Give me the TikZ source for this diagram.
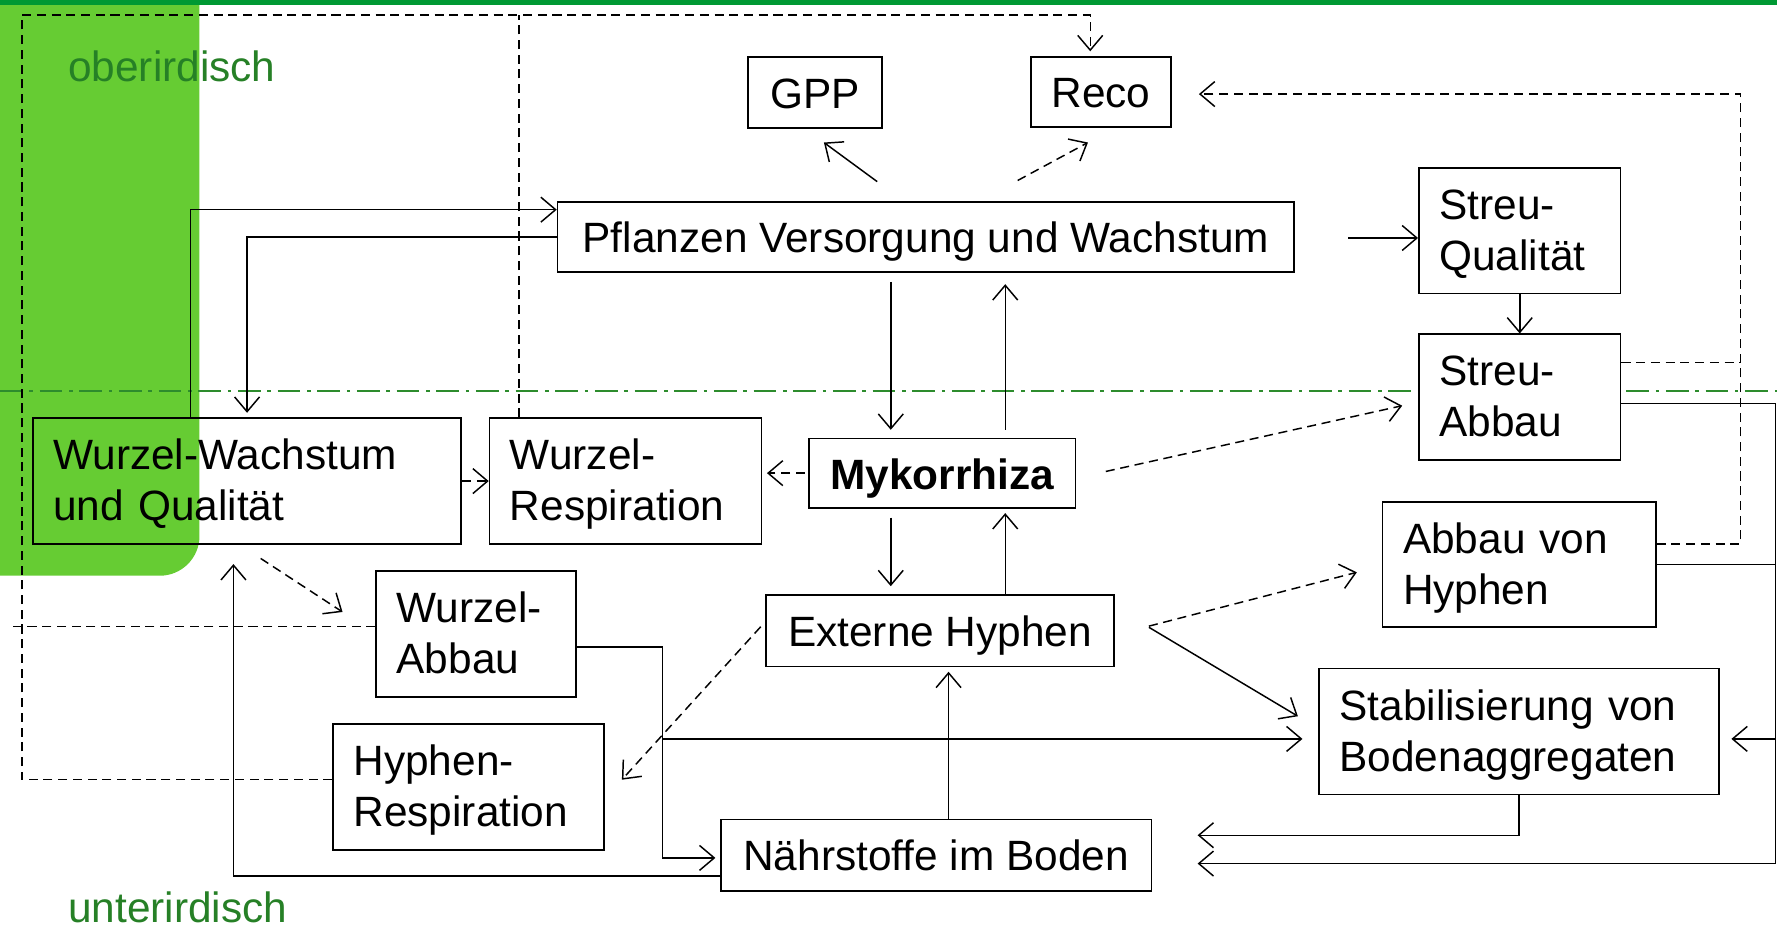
\documentclass[tikz,border=0pt]{standalone}
\usepackage{fontspec}
\setmainfont{Liberation Sans}
\usetikzlibrary{arrows.meta, calc}

\definecolor{balken}{RGB}{0,153,51}
\definecolor{blattgruen}{RGB}{102,204,51}
\definecolor{schrift}{RGB}{38,128,38}
\definecolor{grenze}{RGB}{45,140,45}

\tikzset{
  kasten/.style={draw, line width=1.5pt, fill=white, inner xsep=18pt, inner ysep=0pt,
    font=\fontsize{37.4}{45}\selectfont},
  einzeilig/.style={kasten, align=center, text height=28pt, text depth=0pt},
  zweizeilig/.style={kasten, align=left, text height=27pt, text depth=47pt, minimum height=111pt},
  fluss/.style={line width=1.3pt, -{Straight Barb[length=13pt, width=22pt]}},
  gestrichelt/.style={line width=1.3pt, dash pattern=on 8pt off 5pt},
}

\begin{document}
\begin{tikzpicture}[x=1pt, y=-1pt]
    \useasboundingbox (0,0) rectangle (1568,821);

    % Hintergrund
    \begin{scope}
        \clip (0,0) rectangle (1568,821);
        \fill[blattgruen, rounded corners=35pt] (-60,-60) rectangle (176,508);
    \end{scope}
    \fill[balken] (0,0) rectangle (1568,4);
    \draw[grenze, line width=1.3pt, dash pattern=on 20pt off 6pt on 3pt off 6pt] (0,345) -- (1568,345);

    \node[anchor=base west, inner sep=0pt, text=schrift, font=\fontsize{37.4}{45}\selectfont] (ober) at (60,72) {oberirdisch};
    \node[anchor=base west, inner sep=0pt, text=schrift, font=\fontsize{37.4}{45}\selectfont] (unter) at (60,814) {unterirdisch};

    % Kaesten
    \node[einzeilig, minimum width=118pt, minimum height=63pt] (gpp) at (719,81.5) {GPP};
    \node[einzeilig, minimum width=123pt, minimum height=62pt] (reco) at (971.5,81) {Reco};
    \node[einzeilig, minimum width=650pt, minimum height=62pt] (pflanzen) at (817,209) {Pflanzen Versorgung und Wachstum};
    \node[zweizeilig, text width=142pt] (streuq) at (1341,203.5) {Streu-\\Qualität};
    \node[zweizeilig, text width=142pt] (streua) at (1341,350.5) {Streu-\\Abbau};
    \node[zweizeilig, fill=none, text width=342pt] (wurzelw) at (218,424.5) {Wurzel-Wachstum\\und Qualität};
    \node[zweizeilig, text width=204pt] (wurzelr) at (552,424.5) {Wurzel-\\Respiration};
    \node[einzeilig, minimum width=235pt, minimum height=61pt] (myk) at (831.5,417.5) {\textbf{Mykorrhiza}};
    \node[zweizeilig, text width=205pt, minimum height=110pt] (abbauh) at (1340.5,498) {Abbau von\\Hyphen};
    \node[zweizeilig, text width=140pt] (wurzela) at (420,559.5) {Wurzel-\\Abbau};
    \node[einzeilig, minimum width=307pt, minimum height=63pt] (exth) at (829.5,556.5) {Externe Hyphen};
    \node[zweizeilig, text width=317pt] (stab) at (1340.5,645.5) {Stabilisierung von\\Bodenaggregaten};
    \node[zweizeilig, text width=203pt] (hyphr) at (413.5,694.5) {Hyphen-\\Respiration};
    \node[einzeilig, minimum width=380pt, minimum height=63pt] (naehr) at (826,754.5) {Nährstoffe im Boden};

    % oben
    \draw[fluss] ([xshift=-43pt,yshift=17pt]pflanzen.north) -- ([xshift=8pt,yshift=-12pt]gpp.south);
    \draw[fluss, gestrichelt] ([xshift=81pt,yshift=18pt]pflanzen.north) -- ([xshift=-11.5pt,yshift=-13pt]reco.south);
    \draw[fluss] ([xshift=47pt,yshift=-1pt]pflanzen.east) -- ([yshift=-6.5pt]streuq.west);
    \draw[fluss] (streuq) -- (streua);

    % Mykorrhiza
    \draw[fluss] ([xshift=-31pt,yshift=-8pt]pflanzen.south) -- ([xshift=-45.5pt,yshift=7pt]myk.north);
    \draw[fluss] ([xshift=55.5pt,yshift=7pt]myk.north) -- ([xshift=70pt,yshift=-10pt]pflanzen.south);
    \draw[fluss] ([xshift=-45.5pt,yshift=-8pt]myk.south) -- ([xshift=-43.5pt,yshift=7pt]exth.north);
    \draw[fluss] ([xshift=57.5pt]exth.north) -- ([xshift=55.5pt,yshift=-4pt]myk.south);
    \draw[fluss, gestrichelt] ([xshift=-3pt]myk.west) -- ($(myk.west -| wurzelr.east)+(4pt,0pt)$);
    \draw[fluss, gestrichelt] ([xshift=26pt,yshift=1.5pt]myk.east) -- ([xshift=-14pt,yshift=-7.5pt]streua.west);

    % Externe Hyphen
    \draw[fluss, gestrichelt] ([xshift=30pt,yshift=4pt]exth.east) -- ([xshift=-22pt,yshift=-7pt]abbauh.west);
    \draw[fluss] ([xshift=30pt,yshift=3pt]exth.east) -- ([xshift=-18pt,yshift=13.5pt]stab.west);
    \draw[fluss, gestrichelt] ([xshift=-4pt,yshift=3.5pt]exth.west) -- ([xshift=15pt,yshift=6.5pt]hyphr.east);
    \draw[fluss] ([xshift=11pt]naehr.north) -- ([xshift=7.5pt,yshift=-4pt]exth.south);

    % Wurzel
    \draw[fluss, gestrichelt] (wurzelw.east) -- (wurzelw.east -| wurzelr.west);
    \draw[fluss, gestrichelt] ([xshift=12pt,yshift=-12pt]wurzelw.south) -- ([xshift=-29pt,yshift=19.5pt]wurzela.west);
    \draw[fluss] ([yshift=-18.5pt]naehr.west) -| ([xshift=-12pt,yshift=-17pt]wurzelw.south);
    \draw[fluss] ([xshift=-50pt]wurzelw.north) |- ([yshift=24pt]pflanzen.west);
    \draw[fluss] (pflanzen.west) -| ([yshift=4pt]wurzelw.north);
    \draw[fluss] ([yshift=-11.5pt]wurzela.east) -- ++(76pt,0pt) coordinate (knick) |- ([xshift=-4pt,yshift=-2.5pt]naehr.west);
    \draw[fluss] ($(knick |- stab.west)+(0pt,-6.5pt)$) -- ($(stab.west)+(-14pt,-6.5pt)$);

    % rechts
    \draw[fluss] ([yshift=-5.5pt]streua.east) -- ++(136pt,0pt) coordinate (rechts) |- ([xshift=40pt,yshift=-7.5pt]naehr.east);
    \draw[line width=1.3pt] (abbauh.east) -- (abbauh.east -| rechts);
    \draw[fluss] ($(rechts |- stab.east)+(0pt,-6.5pt)$) -- ($(stab.east)+(10pt,-6.5pt)$);
    \draw[fluss] (stab.south) |- ([xshift=40pt,yshift=17.5pt]naehr.east);

    % gestrichelt zu Reco
    \draw[fluss, gestrichelt] ([yshift=18pt]abbauh.east) -- ++(74pt,0pt) coordinate (rechtsd) |- ([xshift=24pt,yshift=-2pt]reco.east);
    \draw[gestrichelt] ([yshift=30.5pt]streua.east) -- ($(streua.east -| rechtsd)+(0pt,30.5pt)$);
    \draw[fluss, gestrichelt] ([yshift=6.5pt]hyphr.west) -- ++(-274pt,0pt) coordinate (links) |- ($(reco.north)+(-9.5pt,36pt)$) -- ([xshift=-9.5pt,yshift=4pt]reco.north);
    \draw[gestrichelt] ([yshift=6.5pt]wurzela.west) -- ++(-320pt,0pt);
    \draw[gestrichelt] ([xshift=-94pt]wurzelr.north) -- ++(0pt,355pt);
\end{tikzpicture}
\end{document}
